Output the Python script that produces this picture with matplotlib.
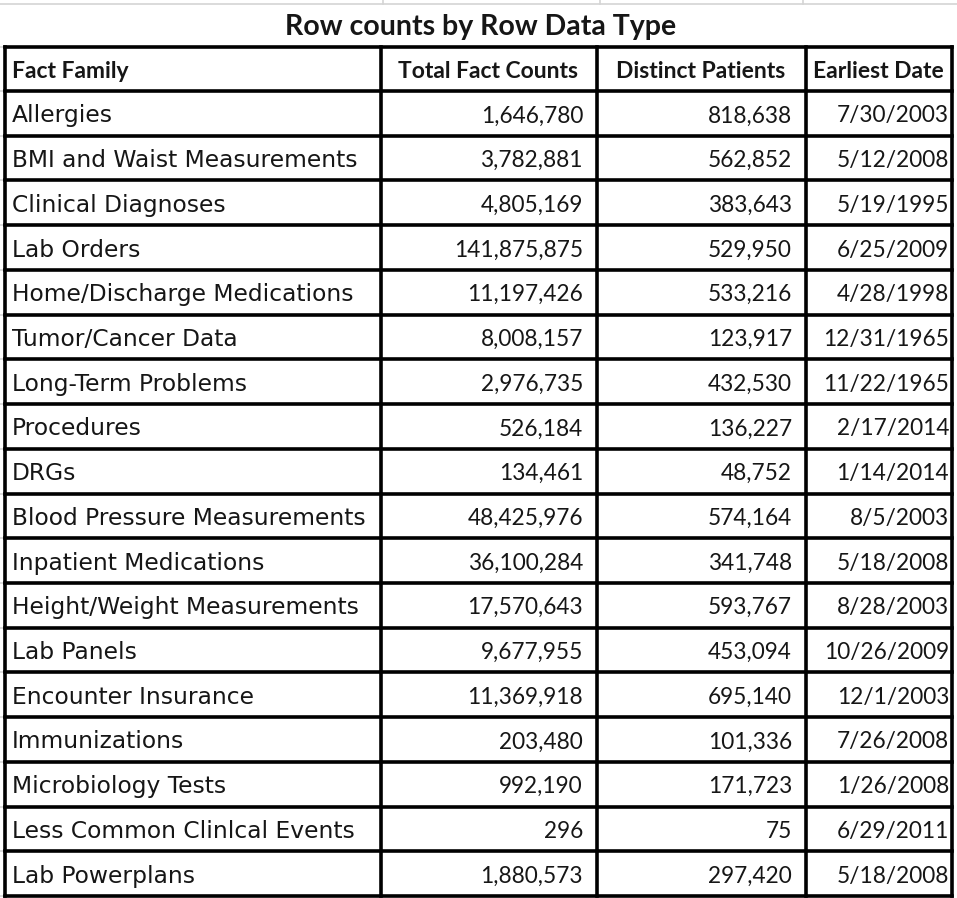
import matplotlib
matplotlib.use("Agg")
import matplotlib.pyplot as plt

title = "Row counts by Row Data Type"
columns = ["Fact Family", "Total Fact Counts", "Distinct Patients", "Earliest Date"]
fact_family = ["Allergies", "BMI and Waist Measurements", "Clinical Diagnoses", "Lab Orders",
               "Home/Discharge Medications", "Tumor/Cancer Data", "Long-Term Problems",
               "Procedures", "DRGs", "Blood Pressure Measurements", "Inpatient Medications",
               "Height/Weight Measurements", "Lab Panels", "Encounter Insurance",
               "Immunizations", "Microbiology Tests", "Less Common Clinlcal Events",
               "Lab Powerplans"]
total_fact_counts = [1646780, 3782881, 4805169, 141875875, 11197426, 8008157, 2976735,
                     526184, 134461, 48425976, 36100284, 17570643, 9677955, 11369918,
                     203480, 992190, 296, 1880573]
distinct_patients = [818638, 562852, 383643, 529950, 533216, 123917, 432530, 136227,
                     48752, 574164, 341748, 593767, 453094, 695140, 101336, 171723, 75,
                     297420]
earliest_date = ["7/30/2003", "5/12/2008", "5/19/1995", "6/25/2009", "4/28/1998",
                 "12/31/1965", "11/22/1965", "2/17/2014", "1/14/2014", "8/5/2003",
                 "5/18/2008", "8/28/2003", "10/26/2009", "12/1/2003", "7/26/2008",
                 "1/26/2008", "6/29/2011", "5/18/2008"]

W, H = 957, 898
fig = plt.figure(figsize=(W / 100, H / 100), dpi=100)
ax = fig.add_axes([0, 0, 1, 1])
ax.set_xlim(0, W)
ax.set_ylim(H, 0)
ax.axis("off")

font = ["Lato", "DejaVu Sans"]
font1 = ["DejaVu Sans"]
txt = "#161616"
col_x = [5, 381, 597, 806, 952]
header_top, header_bot = 47, 91
n = len(fact_family)
row_h = (896 - header_bot) / n
row_y = [header_bot + i * row_h for i in range(n + 1)]

# faint Excel gridlines around the table
ax.plot([0, W], [4, 4], color="#d4d4d4", lw=1.2)
for gx in [383, 600, 803]:
    ax.plot([gx, gx], [0, 4], color="#d4d4d4", lw=1.2)
for y in row_y:
    ax.plot([0, 5], [y, y], color="#d4d4d4", lw=1.2)
ax.plot([0, 5], [header_top, header_top], color="#d4d4d4", lw=1.2)

ax.text(481, 27, title, ha="center", va="center", fontsize=20.5, fontweight="bold",
        family=font, color=txt)

lw = 2.6
for y in [header_top, header_bot] + row_y[1:]:
    ax.plot([col_x[0], col_x[-1]], [y, y], color="black", lw=lw, solid_capstyle="projecting")
for x in col_x:
    ax.plot([x, x], [header_top, row_y[-1]], color="black", lw=lw, solid_capstyle="projecting")

hy = (header_top + header_bot) / 2 + 2
ax.text(col_x[0] + 7, hy, columns[0], ha="left", va="center", fontsize=16.5,
        fontweight="bold", family=font, color=txt)
for j in range(1, 4):
    ax.text((col_x[j] + col_x[j + 1]) / 2 - 1, hy, columns[j], ha="center", va="center",
            fontsize=16.5, fontweight="bold", family=font, color=txt)

for i in range(n):
    cy = (row_y[i] + row_y[i + 1]) / 2 + 2.5
    ax.text(col_x[0] + 7, cy, fact_family[i], ha="left", va="center", fontsize=16.8,
            family=font1, color=txt)
    ax.text(col_x[2] - 14, cy, f"{total_fact_counts[i]:,}", ha="right", va="center",
            fontsize=16.3, family=font, color=txt)
    ax.text(col_x[3] - 14, cy, f"{distinct_patients[i]:,}", ha="right", va="center",
            fontsize=16.3, family=font, color=txt)
    ax.text(col_x[4] - 3, cy, earliest_date[i], ha="right", va="center",
            fontsize=16.3, family=font, color=txt)

fig.savefig("out.png", dpi=100, facecolor="white")
